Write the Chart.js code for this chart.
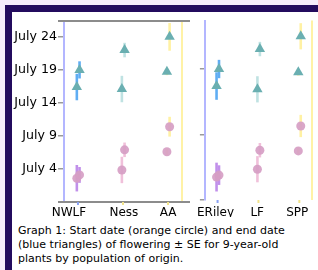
<!DOCTYPE html>
<html><head><meta charset="utf-8">
<script src="https://cdn.jsdelivr.net/npm/chart.js@4.4.1/dist/chart.umd.min.js"></script>
<style>
html,body{margin:0;padding:0;width:318px;height:270px;overflow:hidden;background:#f5ecfb;}
#frame{position:absolute;left:5px;top:5px;width:313px;height:265px;background:#230b5e;}
#inner{position:absolute;left:12px;top:12px;width:306px;height:258px;background:#fff;}
#c1{position:absolute;left:12px;top:12px;}
#c2{position:absolute;left:190px;top:12px;}
#cap{position:absolute;left:18px;top:224px;font:11px "DejaVu Sans",Verdana,sans-serif;line-height:14px;color:#000;white-space:nowrap;}
</style></head>
<body>
<div id="frame"></div><div id="inner"></div>
<canvas id="c1" width="180" height="205"></canvas>
<canvas id="c2" width="128" height="205"></canvas>
<div id="cap">Graph 1: Start date (orange circle) and end date<br>(blue triangles) of flowering ± SE for 9-year-old<br>plants by population of origin.</div>
<script>
// ---- data (day of July) ----
const catsLeft = ['NWLF', 'Ness', 'AA'];
const catsRight = ['ERiley', 'LF', 'SPP'];
const labelPosLeft = [-0.2, 1.02, 2.0];
const labelPosRight = [-0.05, 0.97, 1.95];
const tickValsLeft = [4, 9, 14, 19, 24];
const tickValsRight = [-1, 9, 19];

// later group (upper triangle / upper circle)
const endLateLeft = [19.0, 22.0, 24.0];
const endLateSeLeft = [1.3, 1.1, 2.1];
const startLateLeft = [3.1, 6.9, 10.4];
const startLateSeLeft = [1.2, 1.1, 1.5];
// earlier group
const endEarlyLeft = [16.4, 16.1, 18.7];
const endEarlySeLeft = [2.0, 2.0, 0.5];
const startEarlyLeft = [2.6, 3.85, 6.6];
const startEarlySeLeft = [2.0, 2.0, 0.5];

const endLateRight = [19.0, 22.05, 24.0];
const endLateSeRight = [1.4, 1.1, 2.0];
const startLateRight = [2.8, 6.6, 10.3];
const startLateSeRight = [1.5, 1.1, 1.7];
const endEarlyRight = [16.4, 15.9, 18.5];
const endEarlySeRight = [2.1, 2.0, 0.5];
const startEarlyRight = [2.5, 3.7, 6.5];
const startEarlySeRight = [2.2, 2.0, 0.5];

const offLate = 0.035, offEarly = -0.025;
const triCol = '#6aafb1', cirCol = 'rgba(214,158,196,0.92)';
const endBarCols = ['rgba(78,164,242,0.9)', '#bfe2e2', '#fff1a3'];
const startBarCols = ['rgba(182,125,230,0.85)', '#f0c0da', '#fff1a3'];
const catTickCols = ['#8aa2f2', '#f2e48c', '#f2e48c'];

function line(ctx, x1, y1, x2, y2) { ctx.beginPath(); ctx.moveTo(x1, y1); ctx.lineTo(x2, y2); ctx.stroke(); }

const decor = {
  id: 'decor',
  beforeDatasetsDraw(chart, args, o) {
    const ctx = chart.ctx, xs = chart.scales.x, ys = chart.scales.y, a = chart.chartArea;
    ctx.save();
    ctx.lineWidth = 2; ctx.strokeStyle = '#fff2a6';
    line(ctx, a.right, a.top, a.right, a.bottom);
    if (o.box) {
      ctx.strokeStyle = '#8c8c8c';
      line(ctx, a.left - 6, a.top, a.right + 8, a.top);
      line(ctx, a.left - 6, a.bottom, a.right + 8, a.bottom);
    }
    ctx.lineWidth = 2;
    for (let i = 0; i < 3; i++) {
      const x = xs.getPixelForValue(i);
      ctx.strokeStyle = catTickCols[i];
      line(ctx, x, a.bottom, x, a.bottom + 3);
    }
    ctx.lineWidth = 2.6;
    o.bars.forEach(b => {
      b.vals.forEach((v, i) => {
        const x = xs.getPixelForValue(i + b.off);
        ctx.strokeStyle = b.cols[i];
        line(ctx, x, ys.getPixelForValue(v - b.se[i]), x, ys.getPixelForValue(v + b.se[i]));
      });
    });
    ctx.restore();
  }
};

function pts(vals, off) { return vals.map((v, i) => ({ x: i + off, y: v })); }

function makeChart(id, cats, labelPos, tickVals, showY, d, geom) {
  new Chart(document.getElementById(id), {
    type: 'scatter',
    data: {
      datasets: [
        { data: pts(d.startEarly, offEarly), pointStyle: 'circle', pointRadius: 4.5, backgroundColor: cirCol, borderWidth: 0 },
        { data: pts(d.startLate, offLate), pointStyle: 'circle', pointRadius: 4.5, backgroundColor: cirCol, borderWidth: 0 },
        { data: pts(d.endEarly, offEarly), pointStyle: 'triangle', pointRadius: 6, backgroundColor: triCol, borderWidth: 0 },
        { data: pts(d.endLate, offLate), pointStyle: 'triangle', pointRadius: 6, backgroundColor: triCol, borderWidth: 0 }
      ]
    },
    options: {
      responsive: false, animation: false, events: [],
      layout: { padding: geom.pad },
      plugins: {
        legend: { display: false }, tooltip: { enabled: false },
        decor: {
          box: geom.box,
          bars: [
            { vals: d.endLate, se: d.endLateSe, off: offLate, cols: endBarCols },
            { vals: d.endEarly, se: d.endEarlySe, off: offEarly, cols: endBarCols },
            { vals: d.startLate, se: d.startLateSe, off: offLate, cols: startBarCols },
            { vals: d.startEarly, se: d.startEarlySe, off: offEarly, cols: startBarCols }
          ]
        }
      },
      scales: {
        x: {
          type: 'linear', min: -0.31, max: 2.31,
          afterBuildTicks: s => { s.ticks = labelPos.map(v => ({ value: v })); },
          afterFit: s => { s.height = geom.xh; },
          grid: { display: false, drawTicks: false },
          border: { display: false },
          ticks: { padding: geom.xpad, color: '#000', font: { family: 'DejaVu Sans', size: 12 }, maxRotation: 0, autoSkip: false,
                   callback: (v, i) => cats[i] }
        },
        y: {
          type: 'linear', min: -1, max: 26.4,
          afterBuildTicks: s => { s.ticks = tickVals.map(v => ({ value: v })); },
          afterFit: s => { s.width = geom.yw; },
          grid: { drawOnChartArea: false, drawTicks: true, tickLength: geom.tl, color: '#9a9a9a', lineWidth: 1.5 },
          border: { display: true, color: '#b3b6ff', width: 2 },
          ticks: { padding: 1, color: '#000', font: { family: 'DejaVu Sans', size: 12.6 },
                   callback: v => showY ? 'July ' + v : '' }
        }
      }
    },
    plugins: [decor]
  });
}

makeChart('c1', catsLeft, labelPosLeft, tickValsLeft, true, {
  endLate: endLateLeft, endLateSe: endLateSeLeft, endEarly: endEarlyLeft, endEarlySe: endEarlySeLeft,
  startLate: startLateLeft, startLateSe: startLateSeLeft, startEarly: startEarlyLeft, startEarlySe: startEarlySeLeft
}, { pad: { left: 0, right: 10, top: 9, bottom: 0 }, xh: 15, xpad: 4, yw: 52, tl: 6, box: true });

makeChart('c2', catsRight, labelPosRight, tickValsRight, false, {
  endLate: endLateRight, endLateSe: endLateSeRight, endEarly: endEarlyRight, endEarlySe: endEarlySeRight,
  startLate: startLateRight, startLateSe: startLateSeRight, startEarly: startEarlyRight, startEarlySe: startEarlySeRight
}, { pad: { left: 0, right: 2, top: 8, bottom: 0 }, xh: 17, xpad: 6, yw: 10, tl: 5, box: false });
</script>
</body></html>
